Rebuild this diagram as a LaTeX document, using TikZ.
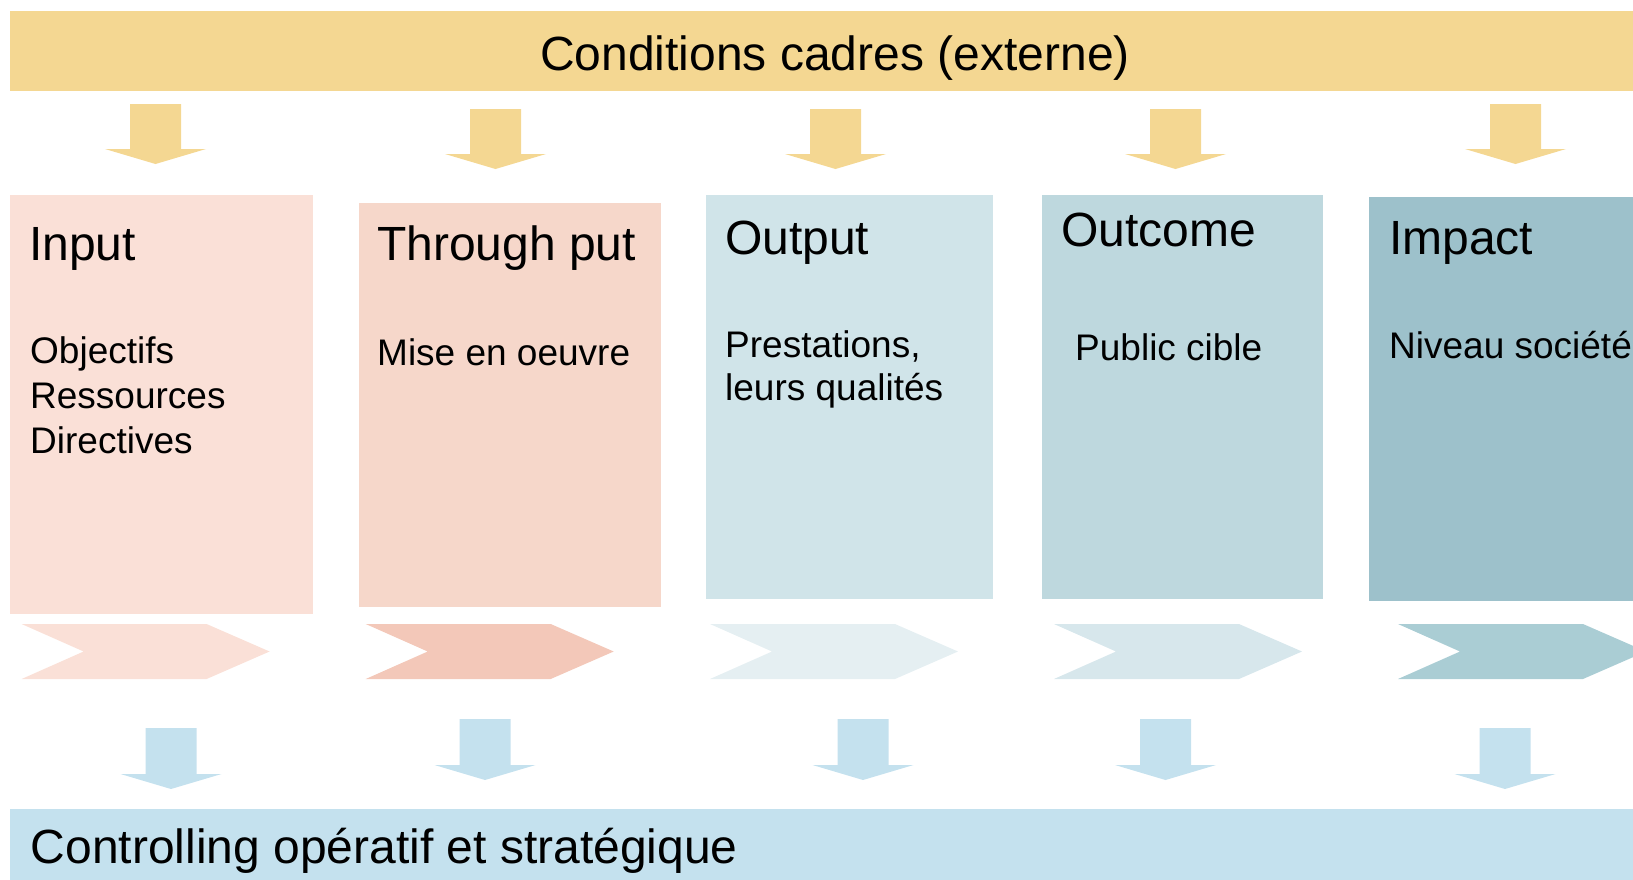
\documentclass[tikz,border=0pt]{standalone}
\usepackage{fontspec}
\setmainfont{Liberation Sans}
\definecolor{gold}{HTML}{F4D792}
\definecolor{cinput}{HTML}{FAE0D7}
\definecolor{cthrough}{HTML}{F6D7CA}
\definecolor{coutput}{HTML}{D0E4E9}
\definecolor{coutcome}{HTML}{BED8DE}
\definecolor{cimpact}{HTML}{9DC1CB}
\definecolor{ctrl}{HTML}{C4E1EE}
\definecolor{chA}{HTML}{FAE0D7}
\definecolor{chB}{HTML}{F3C8B9}
\definecolor{chC}{HTML}{E5EFF2}
\definecolor{chD}{HTML}{D7E7EC}
\definecolor{chE}{HTML}{AACDD4}
\newcommand\blockdown[5]{%
  \fill[#5] ({#1-25.5},#2) -- ({#1+25.5},#2) -- ({#1+25.5},#3) -- ({#1+50.5},#3)
    -- (#1,#4) -- ({#1-50.5},#3) -- ({#1-25.5},#3) -- cycle;}
\newcommand\chevronshape[2]{%
  \fill[#2] (#1,624) -- ({#1+185},624) -- ({#1+248},651.5) -- ({#1+185},679)
    -- (#1,679) -- ({#1+62},651.5) -- cycle;}
\begin{document}
\begin{tikzpicture}[x=1pt,y=-1pt,
  panel/.style={draw=none, inner sep=0, anchor=north west},
  titletext/.style={anchor=base west, inner sep=0, font=\fontsize{48}{58}\selectfont},
  bodytext/.style={anchor=base west, inner sep=0, font=\fontsize{37}{45}\selectfont},
  bandtext/.style={inner sep=0, font=\fontsize{48}{58}\selectfont}]
\useasboundingbox (0,0) rectangle (1633,879);
\clip (0,0) rectangle (1633,879);
% top band
\node[panel, fill=gold, minimum width=1640pt, minimum height=80pt] (cond) at (10,11) {};
\node[bandtext, anchor=base] (condtxt) at (835,70) {Conditions cadres (externe)};
% yellow arrows
\blockdown{155.5}{104}{149}{164}{gold}
\blockdown{495.5}{109}{154}{169}{gold}
\blockdown{835.5}{109}{154}{169}{gold}
\blockdown{1175.5}{109}{154}{169}{gold}
\blockdown{1515.5}{104}{149}{164}{gold}
% boxes
\node[panel, fill=cinput, minimum width=303pt, minimum height=419pt] (input) at (10,195) {};
\node[panel, fill=cthrough, minimum width=302pt, minimum height=404pt] (through) at (359,203) {};
\node[panel, fill=coutput, minimum width=287pt, minimum height=404pt] (output) at (706,195) {};
\node[panel, fill=coutcome, minimum width=281pt, minimum height=404pt] (outcome) at (1042,195) {};
\node[panel, fill=cimpact, minimum width=300pt, minimum height=404pt] (impact) at (1369,197) {};
% titles
\node[titletext] (tin) at (29,260) {Input};
\node[titletext] (tthr) at (377,260) {Through put};
\node[titletext] (tout) at (725,254) {Output};
\node[titletext] (toc) at (1061,246) {Outcome};
\node[titletext] (timp) at (1389,254) {Impact};
% bodies
\node[bodytext] (bin1) at (30,363) {Objectifs};
\node[bodytext] (bin2) at (30,408) {Ressources};
\node[bodytext] (bin3) at (30,453) {Directives};
\node[bodytext] (bthr) at (377,365) {Mise en oeuvre};
\node[bodytext] (bout1) at (725,357) {Prestations,};
\node[bodytext] (bout2) at (725,400) {leurs qualités};
\node[bodytext] (boc) at (1075,360) {Public cible};
\node[bodytext] (bimp) at (1389,358) {Niveau société};
% chevrons
\chevronshape{21.6}{chA}
\chevronshape{365.7}{chB}
\chevronshape{710}{chC}
\chevronshape{1054}{chD}
\chevronshape{1398}{chE}
% blue arrows
\blockdown{171}{728}{774}{789}{ctrl}
\blockdown{485}{719}{765}{780}{ctrl}
\blockdown{863}{719}{765}{780}{ctrl}
\blockdown{1165.5}{719}{765}{780}{ctrl}
\blockdown{1505}{728}{774}{789}{ctrl}
% bottom band
\node[panel, fill=ctrl, minimum width=1640pt, minimum height=80pt] (ctrlband) at (10,809) {};
\node[bandtext, anchor=base west] (ctrltxt) at (30.5,863) {Controlling opératif et stratégique};
\end{tikzpicture}
\end{document}
